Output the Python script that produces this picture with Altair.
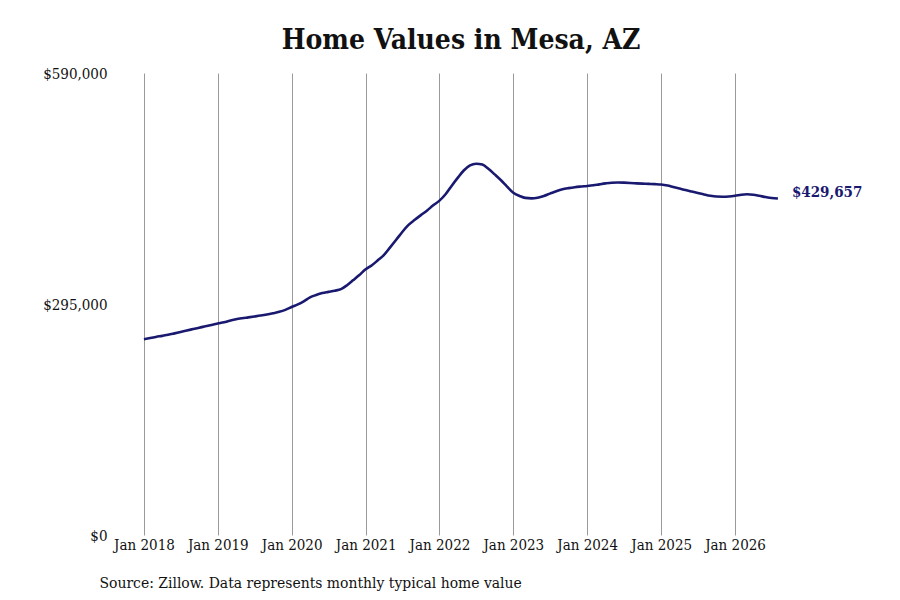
import altair as alt
import pandas as pd

# Monthly typical home value (thousands of $), Jan 2018 .. Aug 2026
values_2018 = [250.1, 251.5, 252.9, 254.3, 255.7, 257.5, 259.3, 261.1, 263.0, 264.8, 266.5, 268.2]
values_2019 = [270.0, 271.7, 273.6, 275.5, 276.8, 277.9, 279.0, 280.2, 281.6, 283.2, 285.0, 287.5]
values_2020 = [291.1, 294.5, 298.5, 303.5, 306.5, 309.0, 310.5, 312.0, 314.0, 319.0, 325.5, 332.0]
values_2021 = [339.3, 344.5, 350.5, 357.5, 367.0, 377.0, 387.0, 396.0, 402.5, 408.5, 414.5, 421.0]
values_2022 = [427.0, 435.5, 445.5, 456.0, 465.5, 472.0, 474.2, 473.0, 467.5, 460.5, 453.0, 445.0]
values_2023 = [437.0, 433.0, 430.5, 429.9, 430.8, 433.0, 436.0, 439.0, 441.5, 443.0, 444.2, 445.0]
values_2024 = [445.7, 446.6, 447.8, 449.0, 449.9, 450.2, 450.0, 449.6, 449.1, 448.7, 448.4, 448.1]
values_2025 = [447.6, 446.3, 444.5, 442.5, 440.5, 438.6, 436.8, 434.9, 433.2, 432.2, 432.0, 432.3]
values_2026 = [433.2, 434.6, 435.2, 434.6, 433.2, 431.6, 430.3, 429.657]

years = [2018, 2019, 2020, 2021, 2022, 2023, 2024, 2025, 2026]
series = [values_2018, values_2019, values_2020, values_2021, values_2022,
          values_2023, values_2024, values_2025, values_2026]

y_ticks = [0, 295000, 590000]
x_tick_years = years

dates, vals = [], []
for yr, vs in zip(years, series):
    for m, v in enumerate(vs):
        dates.append(f"{yr}-{m + 1:02d}-01")
        vals.append(round(v * 1000))

df = pd.DataFrame({"date": dates, "value": vals})
last = df.tail(1)

FONT = "DejaVu Serif Condensed, DejaVu Serif"
NAVY = "#191970"

x_enc = alt.X(
    "date:T",
    scale=alt.Scale(
        type="utc",
        domain=[alt.DateTime(year=2017, month=8, date=11, utc=True),
                alt.DateTime(year=2026, month=9, date=5, utc=True)],
    ),
    axis=alt.Axis(
        values=[alt.DateTime(year=y, month=1, date=1, utc=True) for y in x_tick_years],
        labelExpr="utcFormat(datum.value, '%b %Y')",
        grid=True,
        gridColor="#9a9a9a",
        gridWidth=1,
        ticks=False,
        domain=False,
        labelPadding=2,
        labelFont=FONT,
        labelFontSize=15,
        labelColor="#111111",
        title="Source: Zillow. Data represents monthly typical home value",
        titleFont=FONT,
        titleFontSize=15.5,
        titleFontWeight="normal",
        titleColor="#111111",
        titleAnchor="start",
        titleAlign="left",
        titleBaseline="alphabetic",
        titleX=-16,
        titleY=52,
    ),
)

y_enc = alt.Y(
    "value:Q",
    scale=alt.Scale(domain=[0, 590000], nice=False, zero=True),
    axis=alt.Axis(
        values=y_ticks,
        format="$,.0f",
        grid=False,
        ticks=False,
        domain=False,
        labelPadding=8,
        labelFont=FONT,
        labelFontSize=15,
        labelColor="#111111",
        labelBaseline="middle",
        title=None,
    ),
)

line = alt.Chart(df).mark_line(
    color=NAVY, strokeWidth=2.6, interpolate="monotone"
).encode(x=x_enc, y=y_enc)

label = alt.Chart(last).mark_text(
    align="left", baseline="middle", dx=14, dy=-7,
    font=FONT, fontSize=15, fontWeight="bold", color=NAVY,
).encode(
    x=alt.X("date:T"),
    y=alt.Y("value:Q"),
    text=alt.Text("value:Q", format="$,.0f"),
)

chart = (
    alt.layer(line, label)
    .properties(
        width=670,
        height=462,
        autosize=alt.AutoSizeParams(type="none"),
        padding={"left": 107, "top": 65, "right": 100, "bottom": 57},
        title=alt.TitleParams(
            "Home Values in Mesa, AZ",
            font=FONT,
            fontSize=28,
            fontWeight="bold",
            color="#111111",
            anchor="middle",
            frame="group",
            baseline="alphabetic",
            offset=21,
            dx=11,
            dy=32,
        ),
    )
    .configure(background="white")
    .configure_view(stroke=None)
)

chart.save("out.html", embed_options={"renderer": "svg", "actions": False})
